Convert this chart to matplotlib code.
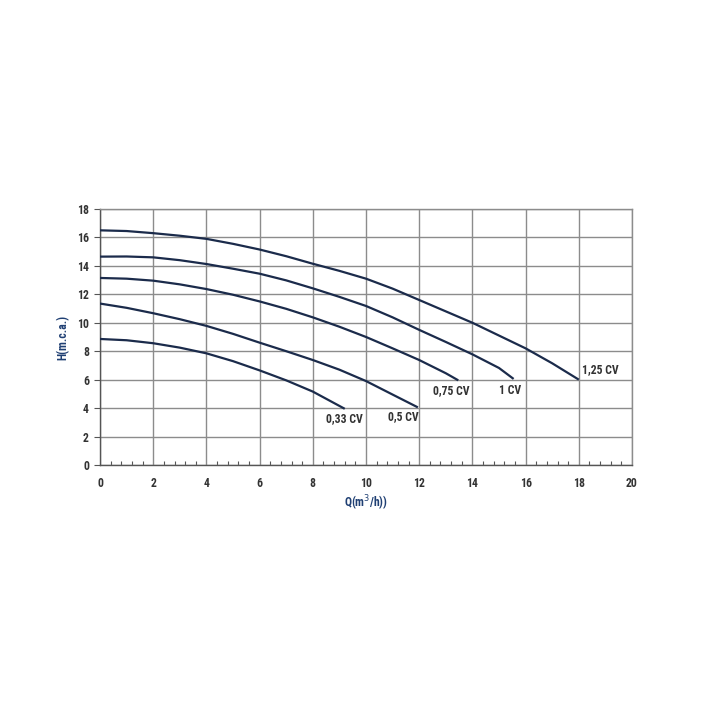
import matplotlib
matplotlib.use("Agg")
import matplotlib.pyplot as plt
from matplotlib.ticker import MultipleLocator

plt.rcParams["font.family"] = ["Roboto Condensed", "Roboto", "DejaVu Sans"]

# pump curves (Q in m3/h, H in m.c.a.)
q_125 = [0, 1, 2, 3, 4, 5, 6, 7, 8, 9, 10, 11, 12, 13, 14, 15, 16, 17, 18]
h_125 = [16.5, 16.45, 16.3, 16.12, 15.9, 15.55, 15.15, 14.68, 14.15, 13.65, 13.1, 12.4, 11.6, 10.8, 10.0, 9.1, 8.2, 7.15, 6.0]
q_100 = [0, 1, 2, 3, 4, 5, 6, 7, 8, 9, 10, 11, 12, 13, 14, 15, 15.55]
h_100 = [14.65, 14.66, 14.6, 14.4, 14.13, 13.8, 13.45, 12.98, 12.42, 11.82, 11.18, 10.38, 9.5, 8.65, 7.78, 6.82, 6.05]
q_075 = [0, 1, 2, 3, 4, 5, 6, 7, 8, 9, 10, 11, 12, 13, 13.47]
h_075 = [13.15, 13.1, 12.96, 12.7, 12.37, 11.97, 11.5, 10.98, 10.38, 9.72, 9.0, 8.2, 7.38, 6.45, 5.95]
q_050 = [0, 1, 2, 3, 4, 5, 6, 7, 8, 9, 10, 11, 11.95]
h_050 = [11.35, 11.05, 10.67, 10.25, 9.78, 9.22, 8.6, 8.0, 7.38, 6.7, 5.9, 4.95, 4.05]
q_033 = [0, 1, 2, 3, 4, 5, 6, 7, 8, 9.2]
h_033 = [8.86, 8.77, 8.56, 8.25, 7.85, 7.3, 6.65, 5.95, 5.16, 3.95]

curve_names = ["1,25 CV", "1 CV", "0,75 CV", "0,5 CV", "0,33 CV"]
label_q = [18.12, 15.4, 13.2, 11.4, 9.2]
label_h = [6.7, 5.25, 5.2, 3.4, 3.25]
label_ha = ["left", "center", "center", "center", "center"]

x_ticks = [0, 2, 4, 6, 8, 10, 12, 14, 16, 18, 20]
y_ticks = [0, 2, 4, 6, 8, 10, 12, 14, 16, 18]

curves = [(q_125, h_125), (q_100, h_100), (q_075, h_075), (q_050, h_050), (q_033, h_033)]

fig = plt.figure(figsize=(7.15, 7.15), dpi=100)
ax = fig.add_axes([0.1399, 0.3497, 0.744, 0.358])

line_color = "#1b2b4b"
for (q, h) in curves:
    ax.plot(q, h, color=line_color, linewidth=1.6, solid_capstyle="butt", zorder=3)

for name, lq, lh, ha in zip(curve_names, label_q, label_h, label_ha):
    ax.text(lq, lh, name, ha=ha, va="center", fontsize=8.5, color="#333333",
            fontweight="bold")

ax.set_xlim(0, 20)
ax.set_ylim(0, 18)
ax.set_xticks(x_ticks)
ax.set_yticks(y_ticks)
ax.xaxis.set_minor_locator(MultipleLocator(0.4))
ax.grid(True, which="major", color="#8c8c8c", linewidth=1.0, zorder=1)

ax.tick_params(axis="x", which="major", direction="in", length=0, pad=9,
               labelsize=8.5, labelcolor="#333333")
ax.tick_params(axis="x", which="minor", direction="in", length=3, width=0.8, color="#555555")
ax.tick_params(axis="y", which="major", direction="out", length=4, width=0.8,
               color="#555555", labelsize=8.5, labelcolor="#333333", pad=4)
for lbl in ax.get_xticklabels() + ax.get_yticklabels():
    lbl.set_fontweight("bold")

for side in ["top", "right"]:
    ax.spines[side].set_color("#8c8c8c")
    ax.spines[side].set_linewidth(1.0)
for side in ["left", "bottom"]:
    ax.spines[side].set_color("#555555")
    ax.spines[side].set_linewidth(1.0)

ax.set_xlabel("Q(m$^3$/h))", fontsize=8.5, color="#1f3f73", fontweight="bold", labelpad=2)
ax.set_ylabel("H(m.c.a.)", fontsize=8.5, color="#1f3f73", fontweight="bold", labelpad=5)

fig.savefig("out.png", dpi=100, facecolor="white")
